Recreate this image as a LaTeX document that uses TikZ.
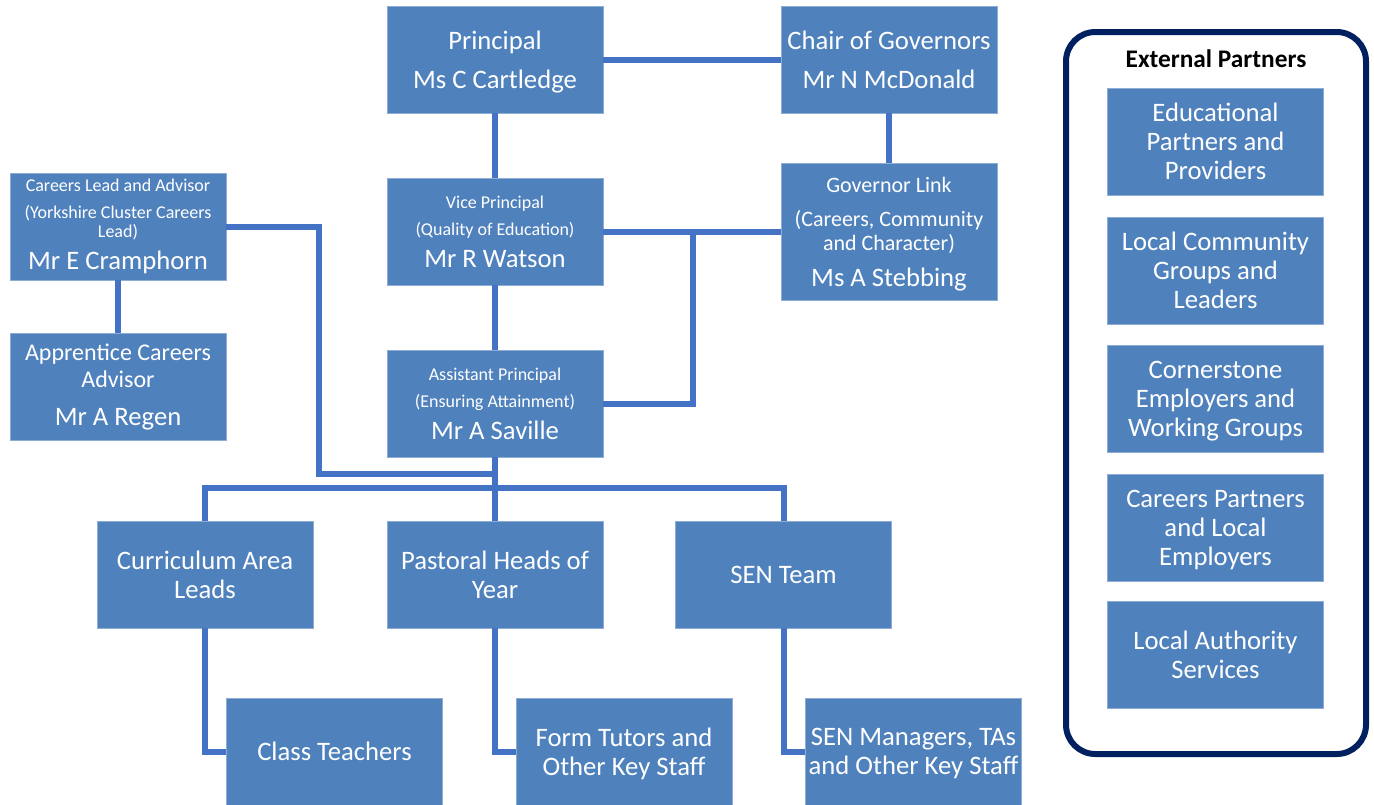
\documentclass[tikz,border=0pt]{standalone}
\usepackage{fontspec}
\setmainfont{Carlito}
\definecolor{boxblue}{HTML}{4F81BD}
\definecolor{lineblue}{HTML}{4472C4}
\definecolor{navy}{HTML}{002060}
\newcommand\smf{\fontsize{13.5}{24}\selectfont}
\newcommand\mdf{\fontsize{16.5}{24}\selectfont}
\newcommand\apf{\fontsize{18}{24}\selectfont}
\begin{document}
\begin{tikzpicture}[x=0.75pt,y=-0.75pt,
  box/.style={fill=boxblue, draw=boxblue!65!white, line width=0.5pt, text=white,
    minimum width=162pt, minimum height=80.25pt, inner sep=0pt, align=center,
    text depth=0pt, font=\fontsize{20}{24}\selectfont},
  conn/.style={draw=lineblue, line width=4.5pt},
  ]
\useasboundingbox (0,0) rectangle (1374,804);
% nodes
\node[box] (prin) at (495,59.5) {Principal\\[5.25pt]Ms C Cartledge};
\node[box] (chair) at (889,59.5) {Chair of Governors\\[5.25pt]Mr N McDonald};
\node[box, text depth={}] (careers) at (118,226.5) {{\smf Careers Lead and Advisor}\\[-3.75pt]{\smf (Yorkshire Cluster Careers}\\[-9.75pt]{\smf Lead)}\\[0pt]Mr E Cramphorn};
\node[box] (vice) at (495,231.5) {{\smf Vice Principal}\\[-3.75pt]{\smf (Quality of Education)}\\[0pt]Mr R Watson};
\node[box, minimum height=102.75pt] (gov) at (889,231.5) {{\mdf Governor Link}\\[1.5pt]{\mdf (Careers, Community}\\[-6pt]{\mdf and Character)}\\[3pt]Ms A Stebbing};
\node[box, text depth={}] (appr) at (118,386.5) {{\apf Apprentice Careers}\\[-3.75pt]{\apf Advisor}\\[4.5pt]Mr A Regen};
\node[box] (asst) at (495,403.5) {{\smf Assistant Principal}\\[-3.75pt]{\smf (Ensuring Attainment)}\\[0pt]Mr A Saville};
\node[box] (curr) at (205,574.5) {Curriculum Area\\[-2.25pt]Leads};
\node[box] (past) at (495,574.5) {Pastoral Heads of\\[-2.25pt]Year};
\node[box] (sen) at (783.5,574.5) {SEN Team};
\node[box] (class) at (334.5,751.5) {Class Teachers};
\node[box] (form) at (624,751.5) {Form Tutors and\\[-2.25pt]Other Key Staff};
\node[box] (senm) at (913.5,751.5) {SEN Managers, TAs\\[-2.25pt]and Other Key Staff};
% external partners
\node[draw=navy, line width=4.5pt, rounded corners=22pt, minimum width=225pt, minimum height=541.5pt, inner sep=0pt] (ext) at (1216,393) {};
\node[anchor=base, font=\bfseries\fontsize{19}{24}\selectfont] (exttitle) at (1216,67) {External Partners};
\node[box] (e1) at (1215.5,141.5) {Educational\\[-2.25pt]Partners and\\[-2.25pt]Providers};
\node[box] (e2) at (1215.5,270.5) {Local Community\\[-2.25pt]Groups and\\[-2.25pt]Leaders};
\node[box] (e3) at (1215.5,398.5) {Cornerstone\\[-2.25pt]Employers and\\[-2.25pt]Working Groups};
\node[box] (e4) at (1215.5,527.5) {Careers Partners\\[-2.25pt]and Local\\[-2.25pt]Employers};
\node[box] (e5) at (1215.5,654.5) {Local Authority\\[-2.25pt]Services};
% connectors
\draw[conn] (prin.east) -- (chair.west);
\draw[conn] (prin.south) -- (vice.north);
\draw[conn] (chair.south) -- (gov.north);
\draw[conn] (vice.south) -- (asst.north);
\draw[conn] (vice.east) -- (gov.west);
\coordinate (gj) at (693,231.5);
\draw[conn] (gj) |- (asst.east);
\coordinate (cb) at (319,474);
\coordinate (cj) at (495,474);
\draw[conn] (careers.east) -| (cb) -- (cj);
\draw[conn] (careers.south) -- (appr.north);
\coordinate (bus) at (495,488);
\draw[conn] (asst.south) -- (past.north);
\draw[conn] (curr.north) |- (bus) -| (sen.north);
\draw[conn] (curr.south) |- (class.west);
\draw[conn] (past.south) |- (form.west);
\draw[conn] (sen.south) |- (senm.west);
\end{tikzpicture}
\end{document}
